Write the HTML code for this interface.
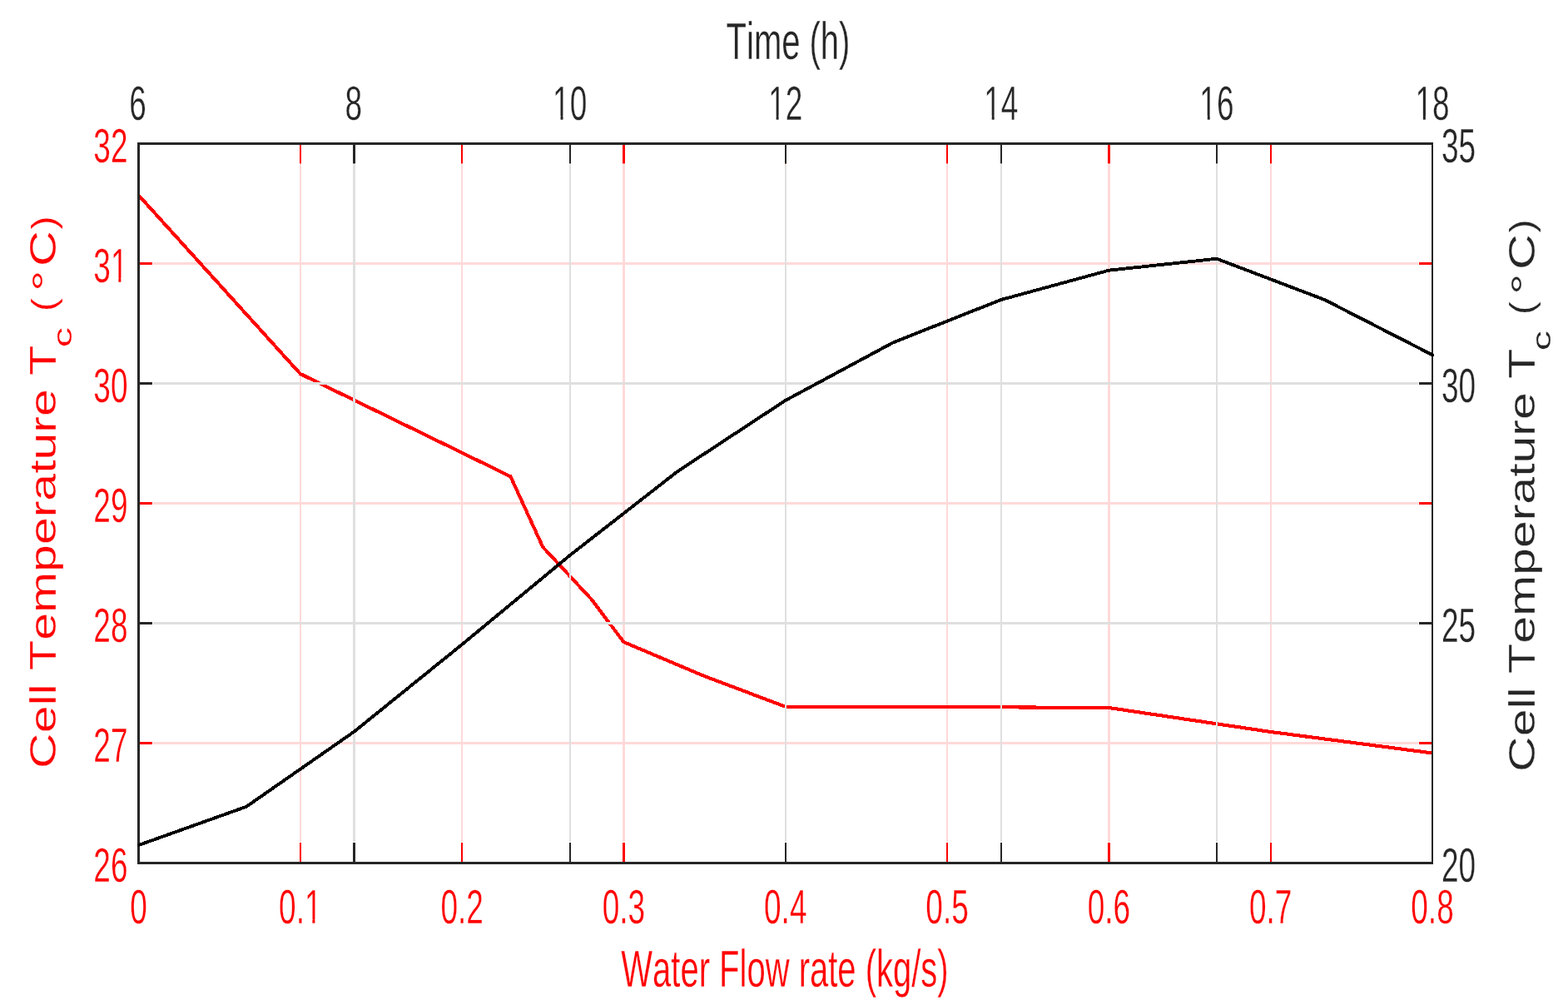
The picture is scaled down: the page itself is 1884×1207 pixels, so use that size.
<!DOCTYPE html>
<html lang="en"><head><meta charset="utf-8"><title>Cell Temperature plot</title>
<style>
html,body{margin:0;padding:0;background:#fff;}
body{width:1884px;height:1207px;overflow:hidden;}
svg{display:block;}
text{font-family:"Liberation Sans",sans-serif;font-size:100px;font-kerning:none;font-variant-ligatures:none;stroke:#fff;stroke-width:0.3px;vector-effect:non-scaling-stroke;}
</style></head><body>
<svg width="1884" height="1207" viewBox="0 0 1884 1207" shape-rendering="auto">
<rect width="1884" height="1207" fill="#fff"/>
<rect x="360" y="197.40" width="2" height="813.70" fill="#ffd9d9"/>
<rect x="554" y="197.40" width="2" height="813.70" fill="#ffd9d9"/>
<rect x="748" y="197.40" width="3" height="813.70" fill="#ffd9d9"/>
<rect x="943" y="197.40" width="2" height="813.70" fill="#ffd9d9"/>
<rect x="1137" y="197.40" width="2" height="813.70" fill="#ffd9d9"/>
<rect x="1331" y="197.40" width="3" height="813.70" fill="#ffd9d9"/>
<rect x="1526" y="197.40" width="2" height="813.70" fill="#ffd9d9"/>
<rect x="184.00" y="891.00" width="1520.00" height="3.00" fill="#ffd9d9"/>
<rect x="184.00" y="747.00" width="1520.00" height="3.00" fill="#ffd9d9"/>
<rect x="184.00" y="603.00" width="1520.00" height="3.00" fill="#ffd9d9"/>
<rect x="184.00" y="459.00" width="1520.00" height="3.00" fill="#ffd9d9"/>
<rect x="184.00" y="315.00" width="1520.00" height="3.00" fill="#ffd9d9"/>
<rect x="360" y="1012.00" width="2" height="23.00" fill="#ff0000"/>
<rect x="360" y="174.00" width="2" height="22.50" fill="#ff0000"/>
<rect x="554" y="1012.00" width="2" height="23.00" fill="#ff0000"/>
<rect x="554" y="174.00" width="2" height="22.50" fill="#ff0000"/>
<rect x="748" y="1012.00" width="3" height="23.00" fill="#ff0000"/>
<rect x="748" y="174.00" width="3" height="22.50" fill="#ff0000"/>
<rect x="943" y="1012.00" width="2" height="23.00" fill="#ff0000"/>
<rect x="943" y="174.00" width="2" height="22.50" fill="#ff0000"/>
<rect x="1137" y="1012.00" width="2" height="23.00" fill="#ff0000"/>
<rect x="1137" y="174.00" width="2" height="22.50" fill="#ff0000"/>
<rect x="1331" y="1012.00" width="3" height="23.00" fill="#ff0000"/>
<rect x="1331" y="174.00" width="3" height="22.50" fill="#ff0000"/>
<rect x="1526" y="1012.00" width="2" height="23.00" fill="#ff0000"/>
<rect x="1526" y="174.00" width="2" height="22.50" fill="#ff0000"/>
<rect x="168.00" y="891.00" width="15.00" height="3.00" fill="#ff0000"/>
<rect x="1705.00" y="891.00" width="15.00" height="3.00" fill="#ff0000"/>
<rect x="168.00" y="747.00" width="15.00" height="3.00" fill="#ff0000"/>
<rect x="1705.00" y="747.00" width="15.00" height="3.00" fill="#ff0000"/>
<rect x="168.00" y="603.00" width="15.00" height="3.00" fill="#ff0000"/>
<rect x="1705.00" y="603.00" width="15.00" height="3.00" fill="#ff0000"/>
<rect x="168.00" y="459.00" width="15.00" height="3.00" fill="#ff0000"/>
<rect x="1705.00" y="459.00" width="15.00" height="3.00" fill="#ff0000"/>
<rect x="168.00" y="315.00" width="15.00" height="3.00" fill="#ff0000"/>
<rect x="1705.00" y="315.00" width="15.00" height="3.00" fill="#ff0000"/>
<polyline points="166.50,234.42 360.81,448.98 613.42,572.24 652.28,657.06 710.58,719.70 749.44,771.11 846.59,812.15 943.75,848.72 1138.06,849.01 1332.37,850.02 1526.69,878.96 1721.00,904.45" fill="none" stroke="#ff0000" stroke-width="4.1" stroke-linejoin="miter" shape-rendering="crispEdges"/>
<rect x="424" y="197.40" width="3" height="813.70" fill="#dfdfdf"/>
<rect x="684" y="197.40" width="2" height="813.70" fill="#dfdfdf"/>
<rect x="943" y="197.40" width="2" height="813.70" fill="#dfdfdf"/>
<rect x="1202" y="197.40" width="2" height="813.70" fill="#dfdfdf"/>
<rect x="1461" y="197.40" width="2" height="813.70" fill="#dfdfdf"/>
<rect x="184.00" y="747.00" width="1520.00" height="3.00" fill="#dfdfdf"/>
<rect x="184.00" y="459.00" width="1520.00" height="3.00" fill="#dfdfdf"/>
<rect x="424" y="1012.00" width="3" height="23.00" fill="#262626"/>
<rect x="424" y="174.00" width="3" height="22.50" fill="#262626"/>
<rect x="684" y="1012.00" width="2" height="23.00" fill="#262626"/>
<rect x="684" y="174.00" width="2" height="22.50" fill="#262626"/>
<rect x="943" y="1012.00" width="2" height="23.00" fill="#262626"/>
<rect x="943" y="174.00" width="2" height="22.50" fill="#262626"/>
<rect x="1202" y="1012.00" width="2" height="23.00" fill="#262626"/>
<rect x="1202" y="174.00" width="2" height="22.50" fill="#262626"/>
<rect x="1461" y="1012.00" width="2" height="23.00" fill="#262626"/>
<rect x="1461" y="174.00" width="2" height="22.50" fill="#262626"/>
<rect x="168.00" y="747.00" width="15.00" height="3.00" fill="#262626"/>
<rect x="1705.00" y="747.00" width="15.00" height="3.00" fill="#262626"/>
<rect x="168.00" y="459.00" width="15.00" height="3.00" fill="#262626"/>
<rect x="1705.00" y="459.00" width="15.00" height="3.00" fill="#262626"/>
<rect x="165" y="171" width="3" height="867" fill="#262626"/>
<rect x="1720" y="171" width="2" height="867" fill="#262626"/>
<rect x="165" y="171" width="1557" height="3" fill="#262626"/>
<rect x="165" y="1035" width="1557" height="3" fill="#262626"/>
<clipPath id="cb"><rect x="165.4" y="150" width="1557.6" height="900"/></clipPath><polyline clip-path="url(#cb)" points="166.50,1015.02 296.04,968.76 425.58,878.68 555.12,774.02 684.67,667.00 814.21,566.08 943.75,480.89 1073.29,411.31 1202.83,359.99 1332.38,324.68 1461.92,310.74 1591.46,359.99 1721.00,426.23" fill="none" stroke="#000" stroke-width="3.9" stroke-linejoin="miter" stroke-linecap="square" shape-rendering="crispEdges"/>
<text transform="translate(165.60,144.30) scale(0.3700,0.5670)" fill="#262626" text-anchor="middle">6</text>
<text transform="translate(424.68,144.30) scale(0.3700,0.5670)" fill="#262626" text-anchor="middle">8</text>
<text transform="translate(684.67,144.30) scale(0.3700,0.5670)" fill="#262626" text-anchor="middle">10</text>
<rect x="663.09" y="139" width="10.45" height="6.80" fill="#fff"/>
<rect x="676.51" y="139" width="8.00" height="6.80" fill="#fff"/>
<text transform="translate(943.75,144.30) scale(0.3700,0.5670)" fill="#262626" text-anchor="middle">12</text>
<rect x="922.17" y="139" width="10.45" height="6.80" fill="#fff"/>
<rect x="935.60" y="139" width="8.00" height="6.80" fill="#fff"/>
<text transform="translate(1202.83,144.30) scale(0.3700,0.5670)" fill="#262626" text-anchor="middle">14</text>
<rect x="1181.26" y="139" width="10.45" height="6.80" fill="#fff"/>
<rect x="1194.68" y="139" width="8.00" height="6.80" fill="#fff"/>
<text transform="translate(1461.92,144.30) scale(0.3700,0.5670)" fill="#262626" text-anchor="middle">16</text>
<rect x="1440.34" y="139" width="10.45" height="6.80" fill="#fff"/>
<rect x="1453.76" y="139" width="8.00" height="6.80" fill="#fff"/>
<text transform="translate(1721.00,144.30) scale(0.3700,0.5670)" fill="#262626" text-anchor="middle">18</text>
<rect x="1699.42" y="139" width="10.45" height="6.80" fill="#fff"/>
<rect x="1712.85" y="139" width="8.00" height="6.80" fill="#fff"/>
<text transform="translate(166.50,1109.40) scale(0.3700,0.5670)" fill="#ff0000" text-anchor="middle">0</text>
<text transform="translate(360.81,1109.40) scale(0.3700,0.5670)" fill="#ff0000" text-anchor="middle">0.1</text>
<rect x="364.95" y="1104" width="10.45" height="6.90" fill="#fff"/>
<rect x="378.38" y="1104" width="8.00" height="6.90" fill="#fff"/>
<text transform="translate(555.12,1109.40) scale(0.3700,0.5670)" fill="#ff0000" text-anchor="middle">0.2</text>
<text transform="translate(749.44,1109.40) scale(0.3700,0.5670)" fill="#ff0000" text-anchor="middle">0.3</text>
<text transform="translate(943.75,1109.40) scale(0.3700,0.5670)" fill="#ff0000" text-anchor="middle">0.4</text>
<text transform="translate(1138.06,1109.40) scale(0.3700,0.5670)" fill="#ff0000" text-anchor="middle">0.5</text>
<text transform="translate(1332.37,1109.40) scale(0.3700,0.5670)" fill="#ff0000" text-anchor="middle">0.6</text>
<text transform="translate(1526.69,1109.40) scale(0.3700,0.5670)" fill="#ff0000" text-anchor="middle">0.7</text>
<text transform="translate(1721.00,1109.40) scale(0.3700,0.5670)" fill="#ff0000" text-anchor="middle">0.8</text>
<text transform="translate(153.50,1059.10) scale(0.3700,0.5670)" fill="#ff0000" text-anchor="end">26</text>
<text transform="translate(153.50,915.10) scale(0.3700,0.5670)" fill="#ff0000" text-anchor="end">27</text>
<text transform="translate(153.50,771.10) scale(0.3700,0.5670)" fill="#ff0000" text-anchor="end">28</text>
<text transform="translate(153.50,627.10) scale(0.3700,0.5670)" fill="#ff0000" text-anchor="end">29</text>
<text transform="translate(153.50,483.10) scale(0.3700,0.5670)" fill="#ff0000" text-anchor="end">30</text>
<text transform="translate(153.50,339.10) scale(0.3700,0.5670)" fill="#ff0000" text-anchor="end">31</text>
<rect x="131.92" y="334" width="10.45" height="6.60" fill="#fff"/>
<rect x="145.35" y="334" width="8.00" height="6.60" fill="#fff"/>
<text transform="translate(153.50,195.10) scale(0.3700,0.5670)" fill="#ff0000" text-anchor="end">32</text>
<text transform="translate(1732.00,1058.70) scale(0.3700,0.5670)" fill="#262626" text-anchor="start">20</text>
<text transform="translate(1732.00,770.70) scale(0.3700,0.5670)" fill="#262626" text-anchor="start">25</text>
<text transform="translate(1732.00,482.70) scale(0.3700,0.5670)" fill="#262626" text-anchor="start">30</text>
<text transform="translate(1732.00,194.70) scale(0.3700,0.5670)" fill="#262626" text-anchor="start">35</text>
<text transform="translate(947.00,71.00) scale(0.4000,0.6220)" fill="#262626" text-anchor="middle">Time (h)</text>
<text transform="translate(943.00,1185.00) scale(0.4000,0.6220)" fill="#ff0000" text-anchor="middle">Water Flow rate (kg/s)</text>
<text transform="translate(67.40,922.90) rotate(-90) scale(0.5900,0.4400)" fill="#ff0000">Cell Temperature T<tspan x="856.95" y="42.27" font-size="70.91px" textLength="41.10" lengthAdjust="spacingAndGlyphs">c</tspan> <tspan x="930.51" y="-1.48" font-size="93.64px" textLength="26.58" lengthAdjust="spacingAndGlyphs">(</tspan><tspan x="971.53" y="4.09" font-size="97.27px" textLength="42.84" lengthAdjust="spacingAndGlyphs">°</tspan><tspan x="1022.37" y="0.00" font-size="100.00px" textLength="72.22" lengthAdjust="spacingAndGlyphs">C</tspan><tspan x="1097.80" y="-1.48" font-size="93.64px" textLength="26.58" lengthAdjust="spacingAndGlyphs">)</tspan></text>
<text transform="translate(1844.10,926.90) rotate(-90) scale(0.5900,0.4400)" fill="#262626">Cell Temperature T<tspan x="856.95" y="42.27" font-size="70.91px" textLength="41.10" lengthAdjust="spacingAndGlyphs">c</tspan> <tspan x="930.51" y="-1.48" font-size="93.64px" textLength="26.58" lengthAdjust="spacingAndGlyphs">(</tspan><tspan x="971.53" y="4.09" font-size="97.27px" textLength="42.84" lengthAdjust="spacingAndGlyphs">°</tspan><tspan x="1022.37" y="0.00" font-size="100.00px" textLength="72.22" lengthAdjust="spacingAndGlyphs">C</tspan><tspan x="1097.80" y="-1.48" font-size="93.64px" textLength="26.58" lengthAdjust="spacingAndGlyphs">)</tspan></text>
</svg>
</body></html>
